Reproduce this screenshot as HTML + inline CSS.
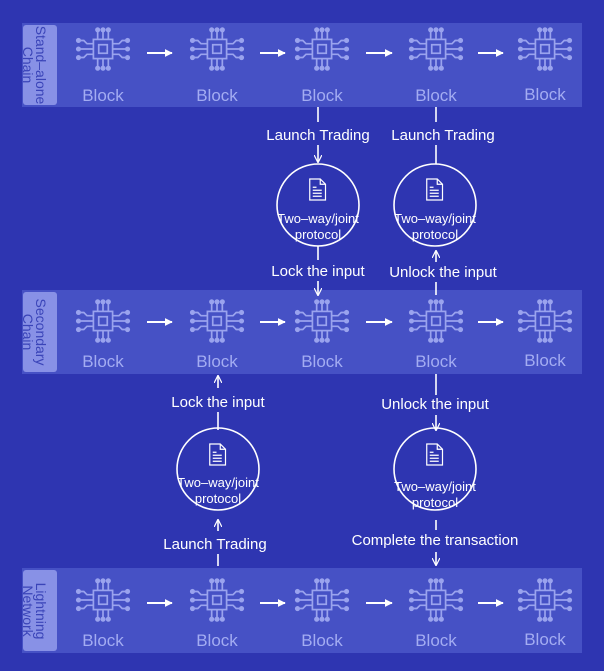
<!DOCTYPE html>
<html><head><meta charset="utf-8"><style>
html,body{margin:0;padding:0;background:#2e35b1;}
svg{display:block}
text{font-family:"Liberation Sans",sans-serif;}
</style></head><body>
<svg width="604" height="671" viewBox="0 0 604 671" xmlns="http://www.w3.org/2000/svg">
<defs>
<symbol id="chip" viewBox="-30 -25 60 50" overflow="visible">
<g stroke="#9aa3ee" stroke-width="1.6" fill="none">
<rect x="-9" y="-9" width="18" height="18"/>
<rect x="-4" y="-4" width="8" height="8"/>
<path d="M-5,-9V-16M0,-9V-16M5,-9V-16M-5,9V16M0,9V16M5,9V16"/>
<path d="M-9,-5H-15L-18,-8H-21M-9,0H-21M-9,5H-15L-18,8H-21"/>
<path d="M9,-5H15L18,-8H21M9,0H21M9,5H15L18,8H21"/>
</g>
<g fill="#9aa3ee">
<circle cx="-5" cy="-18" r="2.4"/><circle cx="0" cy="-18" r="2.4"/><circle cx="5" cy="-18" r="2.4"/>
<circle cx="-5" cy="18" r="2.4"/><circle cx="0" cy="18" r="2.4"/><circle cx="5" cy="18" r="2.4"/>
<circle cx="-23" cy="-8" r="2.4"/><circle cx="-23" cy="0" r="2.4"/><circle cx="-23" cy="8" r="2.4"/>
<circle cx="23" cy="-8" r="2.4"/><circle cx="23" cy="0" r="2.4"/><circle cx="23" cy="8" r="2.4"/>
</g>
</symbol>
<symbol id="doc" viewBox="0 0 24 30" overflow="visible">
<path d="M1,1H15L22,8V29H1Z M15,1V8H22" fill="none" stroke="#fff" stroke-width="1.6"/>
<path d="M5,12H10M5,16H17M5,20H17M5,24H17" stroke="#fff" stroke-width="1.6"/>
</symbol>
<marker id="ah" viewBox="0 0 10 10" refX="9" refY="5" markerWidth="8" markerHeight="8" orient="auto" markerUnits="userSpaceOnUse"><path d="M0,0L10,5L0,10" fill="none" stroke="#fff" stroke-width="1.5"/></marker>
<marker id="af" viewBox="0 0 10 10" refX="9" refY="5" markerWidth="8" markerHeight="8" orient="auto" markerUnits="userSpaceOnUse"><path d="M0,0L10,5L0,10Z" fill="#fff"/></marker>
</defs>

<g>
<rect x="22" y="23" width="560" height="84" fill="#4651c5"/>
<rect x="22" y="290" width="560" height="84" fill="#4651c5"/>
<rect x="22" y="568" width="560" height="85" fill="#4651c5"/>
<rect x="23" y="25" width="34" height="80" rx="3" fill="#8891e6"/>
<rect x="23" y="292" width="34" height="80" rx="3" fill="#8891e6"/>
<rect x="23" y="570" width="34" height="81" rx="3" fill="#8891e6"/>
</g>
<g fill="#3a44b8" font-size="14">
<text transform="translate(36,65) rotate(90)" text-anchor="middle">Stand–alone</text>
<text transform="translate(23,65) rotate(90)" text-anchor="middle">Chain</text>
<text transform="translate(36,332) rotate(90)" text-anchor="middle">Secondary</text>
<text transform="translate(23,332) rotate(90)" text-anchor="middle">Chain</text>
<text transform="translate(36,611) rotate(90)" text-anchor="middle">Lightning</text>
<text transform="translate(23,611) rotate(90)" text-anchor="middle">Network</text>
</g>

<g>
<use href="#chip" x="71" y="22" width="64" height="54"/>
<use href="#chip" x="185" y="22" width="64" height="54"/>
<use href="#chip" x="290" y="22" width="64" height="54"/>
<use href="#chip" x="404" y="22" width="64" height="54"/>
<use href="#chip" x="513" y="22" width="64" height="54"/>
<use href="#chip" x="71" y="294" width="64" height="54"/>
<use href="#chip" x="185" y="294" width="64" height="54"/>
<use href="#chip" x="290" y="294" width="64" height="54"/>
<use href="#chip" x="404" y="294" width="64" height="54"/>
<use href="#chip" x="513" y="294" width="64" height="54"/>
<use href="#chip" x="71" y="573" width="64" height="54"/>
<use href="#chip" x="185" y="573" width="64" height="54"/>
<use href="#chip" x="290" y="573" width="64" height="54"/>
<use href="#chip" x="404" y="573" width="64" height="54"/>
<use href="#chip" x="513" y="573" width="64" height="54"/>
</g>
<g fill="#a3acf2" font-size="17" text-anchor="middle">
<text x="103" y="101">Block</text><text x="217" y="101">Block</text><text x="322" y="101">Block</text><text x="436" y="101">Block</text><text x="545" y="100">Block</text>
<text x="103" y="367">Block</text><text x="217" y="367">Block</text><text x="322" y="367">Block</text><text x="436" y="367">Block</text><text x="545" y="366">Block</text>
<text x="103" y="646">Block</text><text x="217" y="646">Block</text><text x="322" y="646">Block</text><text x="436" y="646">Block</text><text x="545" y="645">Block</text>
</g>
<g stroke="#fff" stroke-width="2" marker-end="url(#af)">
<line x1="147" y1="53" x2="172" y2="53"/><line x1="260" y1="53" x2="285" y2="53"/><line x1="366" y1="53" x2="392" y2="53"/><line x1="478" y1="53" x2="503" y2="53"/>
<line x1="147" y1="322" x2="172" y2="322"/><line x1="260" y1="322" x2="285" y2="322"/><line x1="366" y1="322" x2="392" y2="322"/><line x1="478" y1="322" x2="503" y2="322"/>
<line x1="147" y1="603" x2="172" y2="603"/><line x1="260" y1="603" x2="285" y2="603"/><line x1="366" y1="603" x2="392" y2="603"/><line x1="478" y1="603" x2="503" y2="603"/>
</g>

<g fill="none" stroke="#fff" stroke-width="1.6">
<circle cx="318" cy="205" r="41"/>
<circle cx="435" cy="205" r="41"/>
<circle cx="218" cy="469" r="41"/>
<circle cx="435" cy="469" r="41"/>
</g>
<use href="#doc" x="309" y="178" width="18" height="23"/>
<use href="#doc" x="426" y="178" width="18" height="23"/>
<use href="#doc" x="209" y="443" width="18" height="23"/>
<use href="#doc" x="426" y="443" width="18" height="23"/>
<g fill="#fff" font-size="13" text-anchor="middle">
<text x="318" y="223">Two–way/joint</text><text x="318" y="239">protocol</text>
<text x="435" y="223">Two–way/joint</text><text x="435" y="239">protocol</text>
<text x="218" y="487">Two–way/joint</text><text x="218" y="503">protocol</text>
<text x="435" y="491">Two–way/joint</text><text x="435" y="507">protocol</text>
</g>

<g stroke="#fff" stroke-width="1.6" fill="none">
<line x1="318" y1="107" x2="318" y2="122"/>
<line x1="318" y1="145" x2="318" y2="162" marker-end="url(#ah)"/>
<line x1="318" y1="246" x2="318" y2="260"/>
<line x1="318" y1="281" x2="318" y2="295" marker-end="url(#ah)"/>
<line x1="436" y1="107" x2="436" y2="122"/>
<line x1="436" y1="145" x2="436" y2="164"/>
<line x1="436" y1="262" x2="436" y2="251" marker-end="url(#ah)"/>
<line x1="436" y1="295" x2="436" y2="282"/>
<line x1="218" y1="388" x2="218" y2="376" marker-end="url(#ah)"/>
<line x1="218" y1="412" x2="218" y2="430"/>
<line x1="218" y1="531" x2="218" y2="520" marker-end="url(#ah)"/>
<line x1="218" y1="554" x2="218" y2="566"/>
<line x1="436" y1="374" x2="436" y2="395"/>
<line x1="436" y1="415" x2="436" y2="430" marker-end="url(#ah)"/>
<line x1="436" y1="520" x2="436" y2="530"/>
<line x1="436" y1="552" x2="436" y2="565" marker-end="url(#ah)"/>
</g>
<g fill="#fff" font-size="15" text-anchor="middle">
<text x="318" y="140">Launch Trading</text>
<text x="443" y="140">Launch Trading</text>
<text x="318" y="276">Lock the input</text>
<text x="443" y="277">Unlock the input</text>
<text x="218" y="407">Lock the input</text>
<text x="435" y="409">Unlock the input</text>
<text x="215" y="549">Launch Trading</text>
<text x="435" y="545">Complete the transaction</text>
</g>
</svg>
</body></html>
